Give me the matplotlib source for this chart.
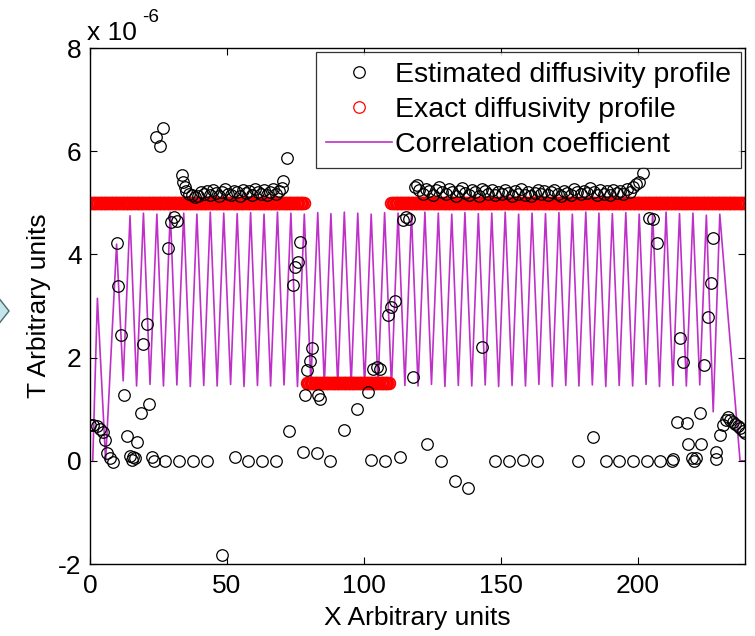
import numpy as np
import matplotlib
matplotlib.use("Agg")
import matplotlib.pyplot as plt
import matplotlib.ticker as ticker
from matplotlib.patches import Polygon

plt.rcParams["font.family"] = ["Liberation Sans", "DejaVu Sans"]

SCALE = 1e-6   # all y values below are in units of 1e-6

# ---------------------------------------------------------------------------
# Estimated diffusivity profile (black circles)
# ---------------------------------------------------------------------------
est_x = [
    0.0, 1.2, 2.4, 3.6, 4.6, 5.5, 6.3, 7.3, 8.5, 9.8, 10.3, 11.3, 12.4, 13.5,
    14.6, 15.3, 15.8, 16.3, 17.3, 18.6, 19.4, 20.7, 21.5, 22.5, 23.5, 24.1,
    25.6, 26.6, 27.4, 28.5, 29.6, 30.6, 31.6, 32.5, 33.5, 34.0, 34.6, 35.2,
    # first plateau
    36.0, 37.1, 38.2, 39.3, 40.4, 41.5, 42.6, 43.7, 44.8, 45.9, 47.0, 48.1,
    49.2, 50.3, 51.4, 52.5, 53.6, 54.7, 55.8, 56.9, 58.0, 59.1, 60.2, 61.3,
    62.4, 63.5, 64.6, 65.7, 66.8, 67.9, 69.0, 70.0,
    37.7, 42.8, 48.1, 52.9, 57.8, 62.9, 67.9,
    70.5, 71.8, 72.7, 73.9, 74.8, 75.8, 76.6, 77.6, 78.5, 79.3, 80.1, 80.9,
    82.7, 83.3, 84.0, 87.6, 92.5, 97.4, 101.6, 102.5, 103.3, 104.6, 105.8,
    107.7, 108.8, 110.0, 111.3, 113.1, 114.2, 115.4, 116.5, 117.9, 118.6, 119.3,
    # second plateau
    120.2, 121.4, 122.6, 123.8, 125.0, 126.2, 127.4, 128.6, 129.8, 131.0,
    132.2, 133.4, 134.6, 135.8, 137.0, 138.2, 139.4, 140.6, 141.8, 143.0,
    144.2, 145.4, 146.6, 147.8, 149.0, 150.2, 151.4, 152.6, 153.8, 155.0,
    156.2, 157.4, 158.6, 159.8, 161.0, 162.2, 163.4, 164.6, 165.8, 167.0,
    168.2, 169.4, 170.6, 171.8, 173.0, 174.2, 175.4, 176.6, 177.8, 179.0,
    180.2, 181.4, 182.6, 183.8, 185.0, 186.2, 187.4, 188.6, 189.8, 191.0,
    192.2, 193.4, 194.6, 195.8, 197.0, 198.2,
    123.0, 128.0, 133.2, 138.0, 143.0, 147.8, 152.8, 157.9, 163.1, 178.1,
    183.6, 188.4, 193.2, 198.0,
    199.4, 200.3, 201.8, 203.3, 204.0, 205.6, 206.9, 208.0, 212.2, 212.8,
    214.2, 215.3, 216.4, 217.9, 218.3, 219.5, 220.3, 221.2, 222.6, 222.8,
    224.2, 225.5, 226.6, 227.4, 228.4, 228.6, 230.0, 231.0, 232.0, 232.8,
    233.6, 234.5, 235.4, 236.3, 237.2, 238.1, 238.9,
]
est_y = [
    0.70, 0.70, 0.68, 0.62, 0.55, 0.40, 0.15, 0.05, -0.02, 4.22, 3.38, 2.44,
    1.28, 0.48, 0.10, 0.02, 0.08, 0.05, 0.37, 0.93, 2.26, 2.66, 1.10, 0.08,
    0.00, 6.27, 6.10, 6.44, 0.00, 4.12, 4.62, 4.72, 4.65, 0.00, 5.53, 5.40,
    5.30, 5.22,
    5.18, 5.15, 5.12, 5.14, 5.20, 5.17, 5.22, 5.15, 5.24, 5.19, 5.13, 5.21,
    5.26, 5.18, 5.15, 5.23, 5.20, 5.14, 5.25, 5.19, 5.22, 5.16, 5.27, 5.21,
    5.18, 5.24, 5.15, 5.20, 5.26, 5.17, 5.23, 5.28,
    0.00, 0.00, -1.82, 0.08, 0.00, 0.00, 0.00,
    5.42, 5.86, 0.58, 3.40, 3.76, 3.86, 4.24, 0.17, 1.28, 1.76, 1.93, 2.18,
    0.15, 1.28, 1.20, 0.00, 0.59, 1.00, 1.33, 0.02, 1.78, 1.82, 1.77,
    0.00, 2.82, 2.98, 3.10, 0.07, 4.66, 4.72, 4.68, 1.63, 5.30, 5.34,
    5.24, 5.18, 5.27, 5.22, 5.15, 5.25, 5.30, 5.21, 5.17, 5.26,
    5.20, 5.14, 5.23, 5.28, 5.19, 5.16, 5.24, 5.20, 5.13, 5.27,
    5.22, 5.18, 5.25, 5.15, 5.21, 5.17, 5.24, 5.19, 5.14, 5.22,
    5.18, 5.26, 5.16, 5.21, 5.13, 5.19, 5.24, 5.17, 5.22, 5.15,
    5.20, 5.25, 5.18, 5.14, 5.23, 5.19, 5.16, 5.26, 5.21, 5.17,
    5.23, 5.19, 5.28, 5.21, 5.15, 5.24, 5.18, 5.22, 5.16, 5.25,
    5.19, 5.23, 5.17, 5.26, 5.20, 5.30,
    0.33, 0.00, -0.40, -0.52, 2.20, 0.00, 0.00, 0.02, 0.00, 0.00,
    0.46, 0.00, 0.00, 0.00,
    5.36, 5.40, 5.58, 0.00, 4.70, 4.68, 4.22, 0.00, 0.00, 0.03,
    0.75, 2.38, 1.92, 0.73, 0.32, 0.05, 0.00, 0.05, 0.93, 0.33,
    1.86, 2.78, 3.44, 4.31, 0.17, 0.03, 0.50, 0.70, 0.80, 0.85,
    0.80, 0.76, 0.72, 0.68, 0.63, 0.58, 0.54,
]

# ---------------------------------------------------------------------------
# Exact diffusivity profile (red circles, sampled densely along x)
# (start, end, level)
# ---------------------------------------------------------------------------
exact_segments = [(0, 78, 5.0), (79, 109, 1.5), (110, 239, 5.0)]
exact_step = 0.5

# ---------------------------------------------------------------------------
# Correlation coefficient (magenta line) vertices
# ---------------------------------------------------------------------------
corr_x = [
    1.0, 2.7, 5.7,
    9.7, 12.1, 14.6, 17.0, 19.5, 21.9, 24.4, 26.8, 29.3, 31.7, 34.2, 36.6,
    39.0, 41.5, 43.9, 46.4, 48.8, 51.3, 53.7, 56.2, 58.6, 61.1, 63.5, 65.9,
    68.4, 70.8, 73.3, 75.7, 78.2, 80.6, 83.1, 85.5, 87.9, 90.4, 92.8, 95.3,
    97.7, 100.2, 102.6, 105.1, 107.5, 110.0, 112.4, 114.9, 117.3, 119.7,
    122.2, 124.6, 127.1, 129.5, 132.0, 134.4, 136.8, 139.3, 141.7, 144.2,
    146.6, 149.1, 151.5, 154.0, 156.4, 158.9, 161.3, 163.8, 166.2, 168.7,
    171.1, 173.6, 176.0, 178.4, 180.9, 183.3, 185.7, 188.2, 190.6, 193.1,
    195.5, 198.0, 200.4, 202.9, 205.3, 207.8, 210.2, 212.7, 215.1, 217.6,
    220.0, 222.5, 224.9, 227.4, 229.8,
    232.5, 237.2, 239.0,
]
corr_y = [
    0.00, 3.15, 0.00,
    4.20, 1.55, 4.75, 1.45, 4.80, 1.48, 4.78, 1.45, 4.82, 1.47, 4.80, 1.44,
    4.78, 1.46, 4.82, 1.45, 4.80, 1.48, 4.79, 1.44, 4.81, 1.46, 4.78, 1.45,
    4.82, 1.47, 4.80, 1.44, 4.78, 1.50, 4.81, 1.46, 4.79, 1.45, 4.82, 1.48,
    4.80, 1.45, 4.78, 1.47, 4.81, 1.44, 4.80, 1.46, 4.79, 1.45, 4.82, 1.48,
    4.80, 1.44, 4.78, 1.46, 4.81, 1.45, 4.79, 1.47, 4.80, 1.44, 4.82, 1.46,
    4.78, 1.45, 4.80, 1.48, 4.79, 1.44, 4.81, 1.46, 4.78, 1.45, 4.82, 1.47,
    4.80, 1.44, 4.79, 1.46, 4.81, 1.45, 4.78, 1.48, 4.80, 1.44, 4.82, 1.46,
    4.79, 1.45, 4.80, 1.47, 4.76, 0.95, 4.78,
    3.00, 0.00, 0.00,
]

x_ticks = [0, 50, 100, 150, 200]
y_ticks = [-2, 0, 2, 4, 6, 8]

# ---------------------------------------------------------------------------
# Plot
# ---------------------------------------------------------------------------
FS = 19
LEG_FS = 20.5
W, H = 755, 636

fig = plt.figure(figsize=(W / 100, H / 100), dpi=100)
fig.patch.set_facecolor("white")
ax = fig.add_axes([90 / W, 1 - 564 / H, 655 / W, 516 / H])

exact_x, exact_y = [], []
for x0, x1, level in exact_segments:
    xs = np.arange(x0, x1 + exact_step / 2, exact_step)
    exact_x.extend(xs)
    exact_y.extend([level] * len(xs))

sc = lambda vals: np.asarray(vals) * SCALE

ax.plot(est_x, sc(est_y), linestyle="none", marker="o", markersize=8.3,
        markerfacecolor="none", markeredgecolor="black", markeredgewidth=0.9,
        label="Estimated diffusivity profile", zorder=3)
ax.plot(exact_x, sc(exact_y), linestyle="none", marker="o", markersize=8.3,
        markerfacecolor="none", markeredgecolor="#ff0000", markeredgewidth=1.4,
        label="Exact diffusivity profile", zorder=2)
ax.plot(corr_x, sc(corr_y), color="#bf30c8", linewidth=1.2,
        label="Correlation coefficient", zorder=1)

ax.set_xlim(0, 239)
ax.set_ylim(-2 * SCALE, 8 * SCALE)
ax.set_xticks(x_ticks)
ax.set_yticks(sc(y_ticks))
ax.yaxis.set_major_formatter(ticker.FuncFormatter(lambda v, _: f"{v / SCALE:.0f}"))
ax.tick_params(direction="in", length=5, width=0.8, labelsize=FS,
               top=True, right=True)
ax.tick_params(axis="x", pad=7)
ax.tick_params(axis="y", pad=6)
for s in ax.spines.values():
    s.set_linewidth(1.0)

ax.set_xlabel("X Arbitrary units", fontsize=FS, labelpad=6)
ax.set_ylabel("T Arbitrary units", fontsize=FS, labelpad=5)

fig.text(87 / W, 1 - 40 / H, "x 10", fontsize=FS, va="baseline", ha="left")
fig.text(142 / W, 1 - 22 / H, "-6", fontsize=FS * 0.72, va="baseline", ha="left")

leg = ax.legend(loc="upper right", fontsize=LEG_FS, frameon=True, fancybox=False,
                handlelength=2.3, handletextpad=0.1, labelspacing=0.32,
                borderpad=0.35, borderaxespad=0.15)
leg.get_frame().set_edgecolor("black")
leg.get_frame().set_linewidth(0.9)
# thin outline for the red legend marker, like the original
leg.legend_handles[1].set_markeredgewidth(0.9)

# piece of a slide arrow cut off at the left edge
arrow = Polygon([[-6 / W, 1 - 292 / H], [9 / W, 1 - 311 / H], [-6 / W, 1 - 330 / H]],
                closed=True, transform=fig.transFigure, facecolor="#c4e6ea",
                edgecolor="#4a6a70", linewidth=1.0, clip_on=False)
fig.patches.append(arrow)

fig.savefig("out.png", dpi=100)
